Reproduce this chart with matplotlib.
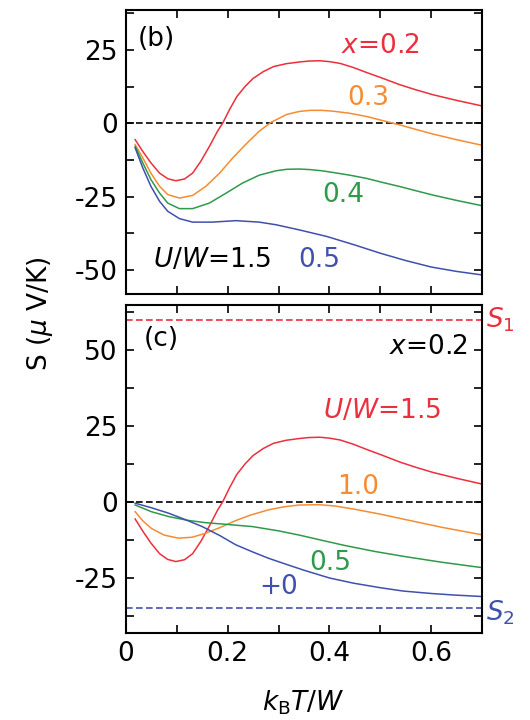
import numpy as np
import matplotlib
matplotlib.use("Agg")
import matplotlib.pyplot as plt
from matplotlib.ticker import MultipleLocator

plt.rcParams['font.family'] = ['DejaVu Sans']
plt.rcParams['axes.unicode_minus'] = False

# (b) U/W = 1.5, different fillings x
T_x02 = [0.018, 0.033, 0.049, 0.066, 0.082, 0.098, 0.115, 0.131, 0.147, 0.164,
         0.18, 0.19, 0.204, 0.218, 0.234, 0.25, 0.27, 0.29, 0.315, 0.342,
         0.36, 0.381, 0.40, 0.421, 0.447, 0.473, 0.505, 0.539, 0.57, 0.604,
         0.65, 0.7]
S_x02 = [-5.6, -9.6, -13.5, -17.0, -18.9, -19.6, -19.0, -17.0, -13.0, -7.9,
         -2.7, 0.0, 4.8, 9.1, 12.5, 15.3, 17.6, 19.3, 20.3, 20.9,
         21.2, 21.3, 21.0, 20.4, 19.0, 17.3, 15.3, 13.1, 11.4, 9.7,
         7.8, 5.9]

T_x03 = [0.018, 0.033, 0.049, 0.066, 0.082, 0.105, 0.131, 0.157, 0.184, 0.21,
         0.236, 0.262, 0.285, 0.316, 0.34, 0.362, 0.385, 0.408, 0.44, 0.473,
         0.505, 0.539, 0.57, 0.604, 0.65, 0.7]
S_x03 = [-7.3, -11.8, -17.0, -21.5, -24.3, -25.5, -24.6, -21.5, -17.0, -11.8,
         -7.1, -2.7, 0.3, 3.0, 4.0, 4.4, 4.4, 4.1, 3.4, 2.3,
         0.9, -0.6, -2.1, -3.7, -5.6, -7.5]

T_x04 = [0.018, 0.033, 0.049, 0.066, 0.082, 0.105, 0.131, 0.164, 0.197, 0.229,
         0.262, 0.295, 0.316, 0.34, 0.362, 0.385, 0.408, 0.44, 0.473, 0.505,
         0.539, 0.57, 0.604, 0.65, 0.7]
S_x04 = [-7.9, -13.5, -19.2, -23.8, -27.2, -29.1, -29.1, -27.2, -23.8, -20.4,
         -17.7, -16.2, -15.7, -15.6, -15.8, -16.2, -16.8, -17.7, -18.8, -20.2,
         -21.6, -23.0, -24.5, -26.3, -28.1]

T_x05 = [0.018, 0.033, 0.049, 0.066, 0.082, 0.105, 0.131, 0.17, 0.216, 0.262,
         0.295, 0.342, 0.395, 0.45, 0.5, 0.55, 0.6, 0.65, 0.7]
S_x05 = [-8.4, -15.2, -21.5, -26.6, -30.0, -32.5, -33.7, -33.7, -33.2, -33.7,
         -34.6, -36.4, -38.6, -41.5, -44.3, -46.8, -49.0, -50.5, -51.7]

# (c) x = 0.2, different U/W  (U/W=1.5 is the x=0.2 curve above)
T_u10 = [0.018, 0.033, 0.05, 0.075, 0.103, 0.13, 0.156, 0.185, 0.216, 0.245,
         0.28, 0.31, 0.34, 0.38, 0.41, 0.45, 0.5, 0.55, 0.62, 0.7]
S_u10 = [-3.2, -6.2, -8.7, -10.9, -11.9, -11.6, -10.3, -8.4, -6.1, -4.3,
         -2.6, -1.6, -1.0, -0.9, -1.3, -2.4, -4.0, -5.8, -8.3, -10.8]

T_u05 = [0.018, 0.05, 0.084, 0.12, 0.156, 0.2, 0.249, 0.3, 0.341, 0.385,
         0.43, 0.49, 0.55, 0.62, 0.7]
S_u05 = [-1.0, -3.2, -4.8, -6.0, -6.8, -7.4, -8.1, -9.5, -10.9, -12.6,
         -14.3, -16.3, -18.0, -19.8, -21.6]

T_u00 = [0.018, 0.05, 0.084, 0.115, 0.15, 0.185, 0.216, 0.25, 0.28, 0.315,
         0.349, 0.4, 0.447, 0.5, 0.545, 0.6, 0.644, 0.7]
S_u00 = [-0.4, -1.9, -3.7, -5.7, -8.1, -11.1, -14.1, -16.5, -18.5, -20.5,
         -22.4, -25.0, -26.7, -28.2, -29.3, -30.1, -30.6, -31.1]

S1 = 60.0
S2 = -35.0

red = '#ec2f3c'
orange = '#f68c32'
green = '#2e9a4a'
blue = '#3f50ad'
fs = 19
lw = 1.1

fig = plt.figure(figsize=(5.3, 7.2), dpi=100)
ax1 = fig.add_axes([126/530, (720-294)/720, 356/530, 284/720])
ax2 = fig.add_axes([126/530, (720-633)/720, 356/530, 328/720])

for ax in (ax1, ax2):
    ax.set_xlim(0, 0.7)
    ax.xaxis.set_major_locator(MultipleLocator(0.2))
    ax.xaxis.set_minor_locator(MultipleLocator(0.1))
    ax.yaxis.set_major_locator(MultipleLocator(25))
    ax.yaxis.set_minor_locator(MultipleLocator(12.5))
    ax.tick_params(which='both', direction='in', top=True, right=True,
                   length=6, width=1.2, labelsize=fs, pad=6)
    for sp in ax.spines.values():
        sp.set_linewidth(1.5)
    ax.axhline(0, color='k', lw=1.2, ls=(0, (4, 2)))

ax1.tick_params(labelbottom=False)
ax2.set_xticks([0, 0.2, 0.4, 0.6], ['0', '0.2', '0.4', '0.6'])
ax1.set_ylim(-58.2, 38.6)
ax2.set_ylim(-43.1, 64.8)

# (b)
ax1.plot(T_x02, S_x02, color=red, lw=lw)
ax1.plot(T_x03, S_x03, color=orange, lw=lw)
ax1.plot(T_x04, S_x04, color=green, lw=lw)
ax1.plot(T_x05, S_x05, color=blue, lw=lw)
ax1.text(0.024, 28.8, '(b)', fontsize=fs, ha='left', va='center')
ax1.text(0.50, 26.4, r'$x$=0.2', fontsize=fs, color=red, ha='center', va='center')
ax1.text(0.477, 8.5, '0.3', fontsize=fs, color=orange, ha='center', va='center')
ax1.text(0.428, -24.5, '0.4', fontsize=fs, color=green, ha='center', va='center')
ax1.text(0.38, -46.6, '0.5', fontsize=fs, color=blue, ha='center', va='center')
ax1.text(0.17, -46.5, r'$U/W$=1.5', fontsize=fs, ha='center', va='center')

# (c)
ax2.axhline(S1, color=red, lw=1.2, ls=(0, (4, 2)))
ax2.axhline(S2, color=blue, lw=1.2, ls=(0, (4, 2)))
ax2.plot(T_x02, S_x02, color=red, lw=lw)
ax2.plot(T_u10, S_u10, color=orange, lw=lw)
ax2.plot(T_u05, S_u05, color=green, lw=lw)
ax2.plot(T_u00, S_u00, color=blue, lw=lw)
ax2.text(0.034, 53.6, '(c)', fontsize=fs, ha='left', va='center')
ax2.text(0.67, 51.1, r'$x$=0.2', fontsize=fs, ha='right', va='center')
ax2.text(0.503, 30.0, r'$U/W$=1.5', fontsize=fs, color=red, ha='center', va='center')
ax2.text(0.457, 5.0, '1.0', fontsize=fs, color=orange, ha='center', va='center')
ax2.text(0.402, -20.1, '0.5', fontsize=fs, color=green, ha='center', va='center')
ax2.text(0.30, -28.1, '+0', fontsize=fs, color=blue, ha='center', va='center')
ax2.text(0.708, 57.5, r'$S_1$', fontsize=fs, color=red, ha='left', va='baseline', clip_on=False)
ax2.text(0.708, -39.0, r'$S_2$', fontsize=fs, color=blue, ha='left', va='baseline', clip_on=False)

fig.text(40/530, 1-314/720, r'S ($\mu$ V/K)', rotation=90, fontsize=fs,
         ha='center', va='center')
fig.text(303/530, 1-703/720, r'$k_{\rm B}T/W$', fontsize=fs, ha='center', va='center')

fig.savefig('out.png', dpi=100)
